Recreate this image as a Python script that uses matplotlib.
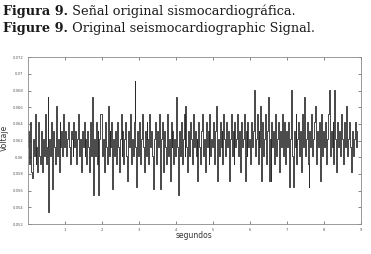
import numpy as np
import matplotlib
matplotlib.use("Agg")
import matplotlib.pyplot as plt

# senal sismocardiografica (mV), 40 muestras por segundo
fs = 40
voltaje_mv = [
    61.2, 63.2, 59.2, 64.2, 58.2, 57.5, 62.2, 60.2, 65.2, 59.2,
    61.2, 58.2, 64.2, 60.2, 59.2, 63.2, 58.2, 62.2, 60.2, 65.2,
    59.2, 61.2, 67.2, 53.5, 62.2, 60.2, 64.2, 56.2, 63.2, 61.2,
    59.2, 66.2, 60.2, 62.2, 58.2, 64.2, 61.2, 63.2, 60.2, 65.2,
    61.2, 63.2, 60.2, 62.2, 64.2, 61.2, 59.2, 63.2, 62.2, 60.2,
    64.2, 61.2, 63.2, 59.2, 62.2, 65.2, 60.2, 62.2, 58.2, 63.2,
    61.2, 64.2, 60.2, 62.2, 59.2, 63.2, 61.2, 58.2, 64.2, 60.2,
    67.2, 55.5, 62.2, 60.2, 64.2, 59.2, 63.2, 55.5, 62.2, 65.2,
    65.2, 60.2, 62.2, 58.2, 64.2, 61.2, 59.2, 66.2, 60.2, 63.2,
    61.2, 64.2, 56.2, 62.2, 60.2, 63.2, 59.2, 64.2, 61.2, 58.2,
    62.2, 65.2, 60.2, 63.2, 59.2, 62.2, 64.2, 60.2, 57.2, 63.2,
    61.2, 65.2, 59.2, 62.2, 60.2, 64.2, 69.1, 61.2, 56.4, 63.2,
    60.2, 64.2, 59.2, 62.2, 65.2, 61.2, 58.2, 63.2, 60.2, 64.2,
    62.2, 59.2, 65.2, 61.2, 63.2, 60.2, 56.2, 62.2, 64.2, 59.2,
    63.2, 61.2, 65.2, 60.2, 56.2, 62.2, 64.2, 58.2, 63.2, 61.2,
    59.2, 65.2, 60.2, 62.2, 57.2, 64.2, 61.2, 63.2, 59.2, 62.2,
    60.2, 67.2, 61.2, 55.5, 63.2, 60.2, 64.2, 59.2, 62.2, 65.2,
    60.2, 66.2, 61.2, 58.2, 63.2, 60.2, 64.2, 62.2, 59.2, 65.2,
    61.2, 63.2, 60.2, 62.2, 57.2, 64.2, 61.2, 59.2, 63.2, 65.2,
    60.2, 62.2, 58.2, 64.2, 61.2, 63.2, 59.2, 65.2, 60.2, 62.2,
    61.2, 64.2, 59.2, 63.2, 66.2, 57.2, 62.2, 60.2, 64.2, 61.2,
    63.2, 59.2, 65.2, 62.2, 60.2, 64.2, 61.2, 63.2, 57.2, 62.2,
    65.2, 60.2, 63.2, 59.2, 64.2, 61.2, 62.2, 65.2, 60.2, 63.2,
    58.2, 64.2, 61.2, 62.2, 65.2, 57.2, 63.2, 60.2, 64.2, 61.2,
    62.2, 59.2, 64.2, 61.2, 63.2, 68.1, 60.2, 62.2, 65.2, 59.2,
    63.2, 61.2, 66.2, 57.2, 64.2, 60.2, 62.2, 65.2, 59.2, 63.2,
    67.2, 57.2, 62.2, 57.2, 64.2, 61.2, 63.2, 59.2, 65.2, 60.2,
    62.2, 64.2, 58.2, 63.2, 61.2, 65.2, 60.2, 62.2, 64.2, 59.2,
    63.2, 61.2, 64.2, 56.4, 62.2, 68.1, 60.2, 56.4, 63.2, 61.2,
    65.2, 59.2, 62.2, 64.2, 60.2, 63.2, 58.2, 65.2, 61.2, 67.2,
    60.2, 62.2, 64.2, 59.2, 56.4, 63.2, 61.2, 65.2, 60.2, 62.2,
    64.2, 66.2, 59.2, 63.2, 61.2, 64.2, 57.2, 62.2, 65.2, 60.2,
    63.2, 61.2, 64.2, 59.2, 62.2, 65.2, 68.1, 60.2, 63.2, 61.2,
    64.2, 59.2, 68.1, 62.2, 58.2, 64.2, 61.2, 63.2, 60.2, 65.2,
    62.2, 59.2, 64.2, 61.2, 63.2, 66.2, 60.2, 62.2, 64.2, 61.2,
    58.2, 63.2, 60.2, 62.2, 64.2, 61.2, 63.2,
]
yticks = [0.052, 0.054, 0.056, 0.058, 0.060, 0.062, 0.064, 0.066, 0.068, 0.070, 0.072]
xticks = [1, 2, 3, 4, 5, 6, 7, 8, 9]

t = np.arange(len(voltaje_mv)) / fs
v = np.array(voltaje_mv) / 1000.0

fig = plt.figure(figsize=(3.71, 2.54), dpi=100)
fig.patch.set_facecolor('white')

# leyenda de la figura (negrita + texto normal)
renderer = fig.canvas.get_renderer()
cap_size = 9.3
for yb, bold, rest in [(0.941, 'Figura 9.', ' Señal original sismocardiográfica.'),
                       (0.874, 'Figure 9.', ' Original seismocardiographic Signal.')]:
    tb = fig.text(0.008, yb, bold, fontweight='bold', family='DejaVu Serif',
                  fontsize=cap_size, va='baseline', color='#1a1a1a')
    w = tb.get_window_extent(renderer).width / fig.bbox.width
    fig.text(0.008 + w, yb, rest, family='DejaVu Serif', fontsize=cap_size,
             va='baseline', color='#1a1a1a')

ax = fig.add_axes([0.0745, 0.118, 0.898, 0.657])
ax.plot(t, v, color='#2a2a2a', lw=0.6, drawstyle='steps-mid')
ax.set_xlim(0, 9)
ax.set_ylim(0.052, 0.072)
ax.set_xticks(xticks)
ax.set_yticks(yticks)
ax.set_yticklabels(['{:g}'.format(y) for y in yticks])
ax.tick_params(direction='in', length=2.2, width=0.5, colors='#555555',
               labelsize=2.7, top=True, right=True)
ax.tick_params(axis='y', pad=3)
ax.tick_params(axis='x', pad=3)
for s in ax.spines.values():
    s.set_color('#8a8a8a')
    s.set_linewidth(0.6)
ax.set_xlabel('segundos', fontsize=5.5, labelpad=-1, color='#333333')
ax.set_ylabel('Voltaje', fontsize=5.5, color='#333333')
ax.yaxis.set_label_coords(-0.057, 0.515)

fig.savefig('out.png', dpi=100)
